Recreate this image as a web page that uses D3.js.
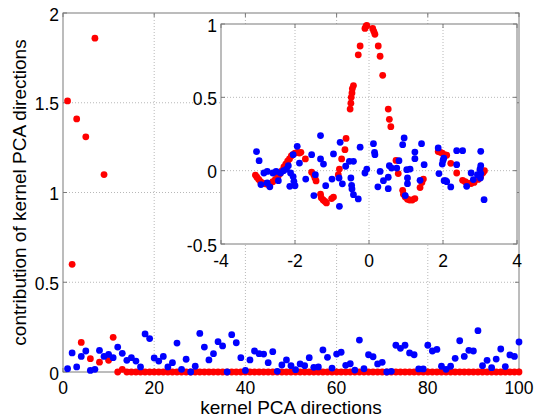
<!DOCTYPE html>
<html>
<head>
<meta charset="utf-8">
<script src="https://cdn.jsdelivr.net/npm/d3@7"></script>
<style>
  body { margin: 0; background: #fff; }
  svg { display: block; }
  text { font-family: "Liberation Sans", Arial, Helvetica, sans-serif; fill: #000; }
</style>
</head>
<body>
<div id="chart"></div>
<script>
var width = 538,
	height = 418;

// main plot: contribution per kernel PCA direction (index 1..100)
var redMain = [1.51, 0.60, 1.41, 0.165, 1.31, 0.074, 1.86, 0.055, 1.10, 0.065,
	0.193, 0, 0.015, 0, 0, 0, 0, 0, 0, 0,
	0, 0, 0, 0, 0, 0, 0, 0, 0, 0,
	0, 0, 0, 0, 0, 0, 0, 0, 0, 0,
	0, 0, 0, 0, 0, 0, 0, 0, 0, 0,
	0, 0, 0, 0, 0, 0, 0, 0, 0, 0,
	0, 0, 0, 0, 0, 0, 0, 0, 0, 0,
	0, 0, 0, 0, 0, 0, 0, 0, 0, 0,
	0, 0, 0, 0, 0, 0, 0, 0, 0, 0,
	0, 0, 0, 0, 0, 0, 0, 0, 0, 0];

var blueMain = [0.018, 0.106, 0.028, 0.087, 0.117, 0.009, 0.015, 0.120, 0.087, 0.098,
	0.080, 0.139, 0.104, 0.065, 0.080, 0.061, 0.028, 0.212, 0.186, 0.078,
	0.061, 0.087, 0.028, 0.052, 0.161, 0.015, 0.071, 0.000, 0.032, 0.215,
	0.139, 0.067, 0.102, 0.169, 0.145, 0.000, 0.208, 0.163, 0.080, 0.009,
	0.067, 0.117, 0.102, 0.100, 0.052, 0.113, 0.004, 0.039, 0.067, 0.035,
	0.013, 0.045, 0.035, 0.080, 0.026, 0.028, 0.123, 0.082, 0.022, 0.100,
	0.110, 0.037, 0.046, 0.011, 0.178, 0.018, 0.096, 0.085, 0.045, 0.054,
	0.000, 0.004, 0.149, 0.132, 0.149, 0.106, 0.096, 0.017, 0.017, 0.149,
	0.117, 0.126, 0.032, 0.015, 0.032, 0.076, 0.174, 0.087, 0.121, 0.117,
	0.230, 0.035, 0.065, 0.024, 0.072, 0.128, 0.030, 0.095, 0.087, 0.167];

// inset: [angle, value]
var redInset = [[-3.07,-0.03],[-3.03,-0.045],[-2.98,-0.06],[-2.93,-0.075],[-2.87,-0.085],
	[-2.80,-0.09],[-2.73,-0.095],[-2.67,-0.09],[-2.60,-0.075],[-2.53,-0.06],
	[-2.46,-0.04],[-2.40,-0.02],[-2.35,0.0],[-2.30,0.025],[-2.25,0.045],
	[-2.20,0.065],[-2.15,0.08],[-2.10,0.10],[-2.06,0.11],[-2.00,0.12],
	[-1.93,0.125],[-1.88,0.12],[-1.84,0.125],[-1.72,0.08],[-1.55,-0.01],
	[-1.49,-0.03],[-1.46,-0.05],[-1.43,-0.07],[-1.31,-0.16],[-1.29,-0.185],
	[-1.24,-0.20],[-1.19,-0.21],[-1.15,-0.22],[-1.01,-0.19],[-0.96,-0.18],
	[-0.83,-0.027],[-0.80,0.011],[-0.74,0.08],[-0.65,0.143],[-0.62,0.22],
	[-0.51,0.42],[-0.49,0.46],[-0.48,0.50],[-0.46,0.53],[-0.45,0.56],
	[-0.42,0.58],[-0.29,0.79],[-0.24,0.85],[-0.11,0.97],[-0.08,0.985],
	[-0.06,0.99],[0.10,0.97],[0.13,0.95],[0.16,0.93],[0.25,0.85],
	[0.30,0.78],[0.37,0.65],[0.52,0.42],[0.55,0.35],[0.59,0.30],
	[0.73,0.07],[0.79,-0.02],[0.91,-0.134],[0.93,-0.16],[0.98,-0.18],
	[1.04,-0.195],[1.10,-0.20],[1.17,-0.20],[1.24,-0.19],[1.38,-0.115],
	[1.43,-0.08],[1.47,-0.057],[1.87,0.13],[1.93,0.125],[1.98,0.12],
	[2.04,0.11],[2.10,0.105],[2.21,0.05],[2.37,-0.016],[2.53,-0.066],
	[2.60,-0.075],[2.68,-0.085],[2.76,-0.088],[2.84,-0.08],[2.95,-0.06],
	[3.02,-0.04],[3.08,-0.015],[3.12,0.0]];

var blueInset = [[-3.04,0.13],[-2.97,0.068],[-2.92,-0.095],[-2.84,-0.016],[-2.75,-0.005],
	[-2.75,-0.084],[-2.68,-0.11],[-2.60,-0.016],[-2.51,-0.005],[-2.45,-0.068],
	[-2.39,-0.016],[-2.31,0.0],[-2.23,0.011],[-2.18,0.034],[-2.14,-0.107],
	[-2.12,-0.016],[-2.05,0.109],[-2.05,-0.04],[-2.03,-0.073],[-2.00,-0.102],
	[-1.94,0.166],[-1.88,0.052],[-1.71,-0.057],[-1.55,0.109],[-1.49,-0.17],
	[-1.45,-0.027],[-1.31,0.239],[-1.31,0.08],[-1.23,0.045],[-1.17,-0.102],
	[-1.00,-0.057],[-0.96,0.114],[-0.80,-0.243],[-0.78,0.193],[-0.81,-0.05],
	[-0.72,-0.09],[-0.63,0.03],[-0.53,0.064],[-0.42,0.064],[-0.49,-0.05],
	[-0.47,-0.10],[-0.46,-0.125],[-0.42,-0.164],[-0.29,-0.193],[-0.24,0.16],
	[-0.11,-0.016],[-0.06,0.011],[0.12,0.184],[0.16,0.109],[0.15,0.125],
	[0.24,-0.11],[0.30,-0.005],[0.39,-0.068],[0.52,-0.045],[0.52,-0.123],
	[0.55,0.034],[0.61,0.018],[0.75,0.018],[0.81,0.068],[0.91,0.177],
	[0.95,0.223],[1.02,0.007],[1.11,0.011],[1.04,-0.05],[1.04,-0.089],
	[0.98,-0.17],[1.24,0.127],[1.24,0.082],[1.38,-0.066],[1.42,0.184],
	[1.49,0.041],[1.87,0.155],[1.89,-0.02],[1.98,0.045],[2.00,0.07],
	[2.02,0.085],[2.03,-0.068],[2.07,-0.068],[2.10,-0.075],[2.21,-0.111],
	[2.37,0.136],[2.37,0.041],[2.53,0.136],[2.64,-0.107],[2.76,-0.016],
	[2.82,-0.061],[2.93,-0.027],[3.02,0.132],[3.02,0.034],[3.00,0.01],
	[3.02,-0.02],[3.01,-0.05],[3.11,-0.198]];

var mainXTicks = [0, 20, 40, 60, 80, 100],
	mainYTicks = [0, 0.5, 1, 1.5, 2],
	insetXTicks = [-4, -2, 0, 2, 4],
	insetYTicks = [-0.5, 0, 0.5, 1];

var axisColor = "#7a7a7a",
	gridColor = "#b8b8b8",
	tickLen = 4,
	tickFont = "17.5px",
	labelFont = "19px",
	dotR = 3.4;

var svg = d3.select("#chart").append("svg")
	.attr("width", width)
	.attr("height", height);

// draws box, grid, inward ticks and labels for one set of axes
function drawAxes(g, x, y, xticks, yticks, opt){
	var x0 = x.range()[0], x1 = x.range()[1],
		y0 = y.range()[0], y1 = y.range()[1];

	if (opt.background){
		g.append("rect")
			.attr("x", x0).attr("y", y1)
			.attr("width", x1 - x0).attr("height", y0 - y1)
			.attr("fill", "#fff");
	}

	// grid
	g.selectAll(".gx").data(xticks.slice(1, -1)).enter().append("line")
		.attr("x1", function(d){ return x(d); }).attr("x2", function(d){ return x(d); })
		.attr("y1", y0).attr("y2", y1)
		.attr("stroke", gridColor).attr("stroke-dasharray", "1,2");
	g.selectAll(".gy").data(yticks.slice(1, -1)).enter().append("line")
		.attr("y1", function(d){ return y(d); }).attr("y2", function(d){ return y(d); })
		.attr("x1", x0).attr("x2", x1)
		.attr("stroke", gridColor).attr("stroke-dasharray", "1,2");

	// tick marks on all four sides
	xticks.forEach(function(d){
		g.append("line").attr("x1", x(d)).attr("x2", x(d)).attr("y1", y0).attr("y2", y0 - tickLen).attr("stroke", axisColor);
		g.append("line").attr("x1", x(d)).attr("x2", x(d)).attr("y1", y1).attr("y2", y1 + tickLen).attr("stroke", axisColor);
	});
	yticks.forEach(function(d){
		g.append("line").attr("y1", y(d)).attr("y2", y(d)).attr("x1", x0).attr("x2", x0 + tickLen).attr("stroke", axisColor);
		g.append("line").attr("y1", y(d)).attr("y2", y(d)).attr("x1", x1).attr("x2", x1 - tickLen).attr("stroke", axisColor);
	});

	g.append("rect")
		.attr("x", x0).attr("y", y1)
		.attr("width", x1 - x0).attr("height", y0 - y1)
		.attr("fill", "none").attr("stroke", axisColor);

	g.selectAll(".lx").data(xticks).enter().append("text")
		.attr("x", function(d){ return x(d); })
		.attr("y", y0 + opt.xLabelDy)
		.attr("text-anchor", "middle")
		.style("font-size", tickFont)
		.text(function(d){ return d; });
	g.selectAll(".ly").data(yticks).enter().append("text")
		.attr("x", x0 - 4)
		.attr("y", function(d){ return y(d) + 7.5; })
		.attr("text-anchor", "end")
		.style("font-size", tickFont)
		.text(function(d){ return d; });
}

// main axes
var x = d3.scaleLinear().domain([0, 100]).range([63, 519]);
var y = d3.scaleLinear().domain([0, 2]).range([372, 13]);
var main = svg.append("g");
drawAxes(main, x, y, mainXTicks, mainYTicks, {xLabelDy: 21.5});

main.append("g").selectAll("circle")
	.data(redMain)
	.enter()
	.append("circle")
	.attr("cx", function(d, i){ return x(i + 1); })
	.attr("cy", function(d){ return y(d); })
	.attr("r", dotR)
	.attr("fill", "#ff0000");

main.append("g").selectAll("circle")
	.data(blueMain)
	.enter()
	.append("circle")
	.attr("cx", function(d, i){ return x(i + 1); })
	.attr("cy", function(d){ return y(d); })
	.attr("r", dotR)
	.attr("fill", "#0000ff");

main.append("text")
	.attr("x", x(50))
	.attr("y", 413.5)
	.attr("text-anchor", "middle")
	.style("font-size", labelFont)
	.text("kernel PCA directions");

main.append("text")
	.attr("transform", "translate(26," + ((y(0) + y(2)) / 2) + ") rotate(-90)")
	.attr("text-anchor", "middle")
	.style("font-size", labelFont)
	.text("contribution of kernel PCA directions");

// inset axes
var xi = d3.scaleLinear().domain([-4, 4]).range([221, 517]);
var yi = d3.scaleLinear().domain([-0.5, 1]).range([244, 24]);
var inset = svg.append("g");
drawAxes(inset, xi, yi, insetXTicks, insetYTicks, {background: true, xLabelDy: 22.5});

inset.append("g").selectAll("circle")
	.data(redInset)
	.enter()
	.append("circle")
	.attr("cx", function(d){ return xi(d[0]); })
	.attr("cy", function(d){ return yi(d[1]); })
	.attr("r", dotR)
	.attr("fill", "#ff0000");

inset.append("g").selectAll("circle")
	.data(blueInset)
	.enter()
	.append("circle")
	.attr("cx", function(d){ return xi(d[0]); })
	.attr("cy", function(d){ return yi(d[1]); })
	.attr("r", dotR)
	.attr("fill", "#0000ff");
</script>
</body>
</html>
